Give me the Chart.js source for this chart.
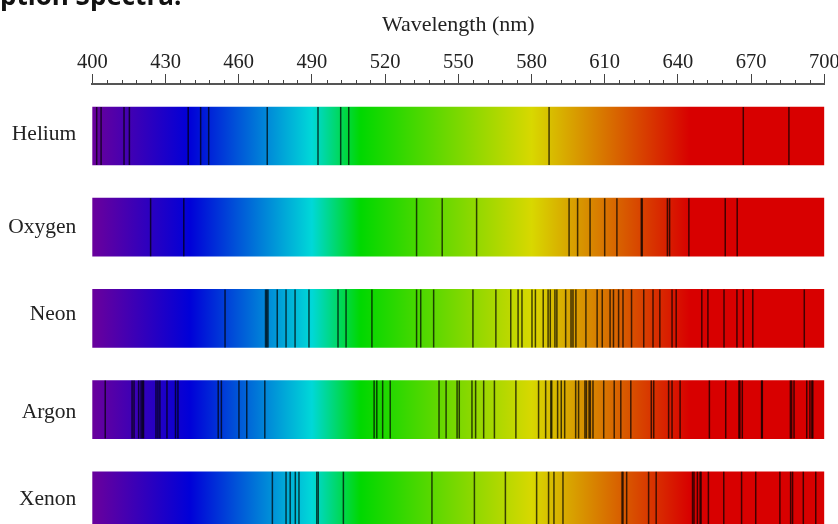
<!DOCTYPE html>
<html><head><meta charset="utf-8">
<style>html,body{margin:0;padding:0;background:#fff;overflow:hidden}canvas{display:block}</style>
<script src="https://cdn.jsdelivr.net/npm/chart.js@4"></script>
</head><body><canvas id="c" width="838" height="524"></canvas>
<script>
const elements = ['Helium','Oxygen','Neon','Argon','Xenon'];
const heliumLines = [401.8,403.6,413,415.2,439.3,444.4,447.7,471.7,492.5,501.8,505.1,587.2,666.8,685.5];
const oxygenLines = [423.9,437.5,532.9,543.4,557.5,595.4,598.9,604,610,615,625,625.4,635.7,636.6,644.5,659.4,664.3];
const neonLines = [454.4,471,471.5,472,475.8,479.4,483.1,488.8,500.7,504,514.6,532.9,534.6,539.9,556,565.4,571.5,574.5,576.1,580.2,581.6,584.8,586.8,587.7,589.6,590.4,594,596.2,597,598.2,602.3,606.9,609,612.2,613.6,615.7,617.5,621,626,629.8,632.6,637.6,639.3,649.8,652.3,658.9,664.2,666.8,670.7,691.8];
const argonLines = [405.3,416.3,417.1,419,420,420.6,421,426.1,426.9,427.7,430.6,434.1,435.1,451.6,452.9,460.1,463.3,470.7,515.5,516.6,519,522.1,542.1,545,549.5,550.4,555.6,557.1,560.4,564.8,573.6,582.9,585.8,587.9,588.3,590.7,592.2,593.6,598.1,599.3,601.9,602.5,603.6,604.1,605.2,609.6,613.9,616.6,620.7,629.1,630.1,636.2,637.6,640.9,652.9,659.6,665,665.4,666.4,674.3,674.6,686.1,686.6,687.6,692.8,694.1,694.9,695.3];
const xenonLines = [473.8,479.4,481.1,483.2,484.7,492,492.6,502.9,539.2,556.6,569.3,582.1,587,589.2,592.9,617.1,617.5,619,628,631.1,646,646.6,648,649.1,649.5,652.5,658.8,666.1,671.9,681.8,686.2,687,691.4,696.5];
const allLines = [heliumLines,oxygenLines,neonLines,argonLines,xenonLines];
const rangeNm = [400,700];
const majorTicks = [400,430,460,490,520,550,580,610,640,670,700];
const minorTicks = [406,412,418,424,436,442,448,454,466,472,478,484,496,502,508,514,526,532,538,544,556,562,568,574,586,592,598,604,616,622,628,634,646,652,658,664,676,682,688,694];
const spectrumNm = [400,440,490,510,580,645,700];
const spectrumColors = ['#6a009c','#0000d8','#00d8d8','#00d800','#d8d800','#d80000','#d80000'];
const labelRows = [-0.015,1,1.96,3.03,3.98];

const serif = '"Liberation Serif", serif';
const ink = '#222222';

function spectrum(ctx){
  const chart = ctx.chart;
  if(!chart.chartArea) return spectrumColors[1];
  const x = chart.scales.x;
  const a = x.getPixelForValue(rangeNm[0]), b = x.getPixelForValue(rangeNm[1]);
  const g = chart.ctx.createLinearGradient(a,0,b,0);
  spectrumNm.forEach((w,i)=>g.addColorStop((w-rangeNm[0])/(rangeNm[1]-rangeNm[0]),spectrumColors[i]));
  return g;
}

const minorTickPlugin = {
  id:'minorTicks',
  afterDraw(chart){
    const x = chart.scales.x, c = chart.ctx, top = chart.chartArea.top;
    c.save(); c.strokeStyle='#444'; c.lineWidth=1;
    minorTicks.forEach(v=>{
      const p = Math.round(x.getPixelForValue(v))+0.5;
      c.beginPath(); c.moveTo(p,top); c.lineTo(p,top-4); c.stroke();
    });
    c.restore();
  }
};

const datasets = [{
  type:'bar',
  label:'Spectrum',
  data: elements.map((e,i)=>({x:rangeNm,y:i})),
  backgroundColor: spectrum,
  borderWidth:0,
  barThickness:58,
  xAxisID:'x',yAxisID:'y',
  order:2
}];
elements.forEach((name,i)=>{
  datasets.push({
    type:'scatter',
    label:name+' lines',
    data: allLines[i].map(w=>({x:w,y:i})),
    pointStyle:'line',
    rotation:90,
    radius:29,
    hoverRadius:29,
    borderWidth:1.5,
    borderColor:'rgba(0,0,0,0.7)',
    backgroundColor:'rgba(0,0,0,0.7)',
    xAxisID:'x',yAxisID:'y',
    order:1
  });
});

new Chart(document.getElementById('c'),{
  data:{datasets},
  plugins:[minorTickPlugin],
  options:{
    indexAxis:'y',
    responsive:false,
    animation:false,
    events:[],
    layout:{autoPadding:false,padding:{left:0,right:13.7,top:0,bottom:0}},
    plugins:{
      legend:{display:false},
      tooltip:{enabled:false},
      title:{
        display:true,
        text:'ption Spectra.',
        align:'start',
        color:'#111',
        font:{family:'"Open Sans", sans-serif',weight:'bold',size:26,lineHeight:1},
        padding:{top:-15,bottom:4}
      }
    },
    scales:{
      x:{
        type:'linear',
        position:'top',
        min:rangeNm[0],max:rangeNm[1],
        afterBuildTicks(s){s.ticks=majorTicks.map(v=>({value:v}));},
        afterFit(s){s.height=69;s.paddingLeft=0;s.paddingRight=0;},
        grid:{drawOnChartArea:false,drawTicks:true,tickLength:10,tickColor:'#444',tickWidth:1},
        border:{display:true,color:'#555',width:2},
        ticks:{autoSkip:false,maxRotation:0,padding:-1,color:ink,font:{family:serif,size:20.5}},
        title:{display:true,text:'Wavelength (nm)',color:ink,font:{family:serif,size:22},padding:{top:-3,bottom:0}}
      },
      y:{
        type:'linear',
        offset:false,
        reverse:true,
        min:-0.57,max:4.254,
        afterBuildTicks(s){s.ticks=labelRows.map(v=>({value:v}));},
        afterFit(s){s.width=92.3;s.paddingTop=0;s.paddingBottom=0;},
        grid:{display:false,drawTicks:false},
        border:{display:false},
        ticks:{autoSkip:false,padding:16,color:ink,font:{family:serif,size:21.5},callback:v=>elements[Math.round(v)]}
      }
    }
  }
});
</script></body></html>
